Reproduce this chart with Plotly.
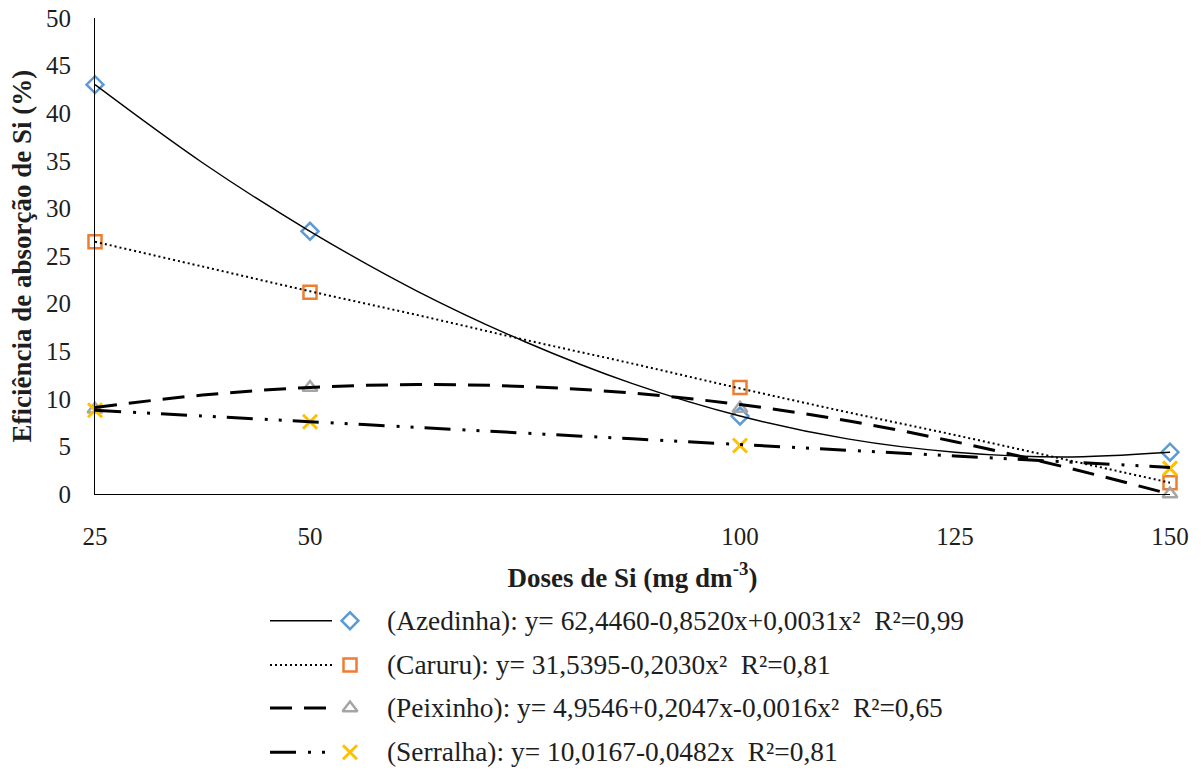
import plotly.graph_objects as go

# ---- data ----
doses = [25, 50, 100, 150]
azedinha = [43.0, 27.6, 8.2, 4.4]
caruru = [26.5, 21.2, 11.2, 1.2]
peixinho = [8.9, 11.2, 9.0, 0.0]
serralha = [8.8, 7.6, 5.1, 2.7]

# trend curves
curve_x = [25, 37.5, 50, 62.5, 75, 87.5, 100, 112.5, 125, 137.5, 150]
azedinha_fit = [43.0, 34.8, 27.6, 21.3, 16.0, 11.6, 8.2, 5.8, 4.4, 3.9, 4.4]
caruru_fit = [26.5, 23.9, 21.3, 18.8, 16.2, 13.7, 11.1, 8.6, 6.2, 3.7, 1.2]
peixinho_fit = [9.1, 10.4, 11.2, 11.5, 11.3, 10.6, 9.4, 7.7, 5.5, 2.9, 0.0]
serralha_fit = [8.8, 8.2, 7.6, 7.0, 6.4, 5.8, 5.2, 4.6, 4.0, 3.4, 2.8]

x_ticks = [25, 50, 100, 125, 150]
y_ticks = [0, 5, 10, 15, 20, 25, 30, 35, 40, 45, 50]

labels = [
    "(Azedinha): y= 62,4460-0,8520x+0,0031x²\u00a0\u00a0R²=0,99",
    "(Caruru): y= 31,5395-0,2030x²\u00a0\u00a0R²=0,81",
    "(Peixinho): y= 4,9546+0,2047x-0,0016x²\u00a0\u00a0R²=0,65",
    "(Serralha): y= 10,0167-0,0482x\u00a0\u00a0R²=0,81",
]

FONT = "Liberation Serif, Times New Roman, serif"
TXT = "#1e1e1e"

series = [
    dict(y=azedinha, fit=azedinha_fit, symbol="diamond-open", color="#5B9BD5", size=13, mlw=2.5,
         dash="solid", lw=1.4),
    dict(y=caruru, fit=caruru_fit, symbol="square-open", color="#ED7D31", size=13, mlw=2.5,
         dash="2px,3px", lw=2),
    dict(y=peixinho, fit=peixinho_fit, symbol="triangle-up-open", color="#A5A5A5", size=13, mlw=2.5,
         dash="22px,12px", lw=3),
    dict(y=serralha, fit=serralha_fit, symbol="x-thin-open", color="#FFC000", size=14, mlw=3,
         dash="26px,12px,3px,11px,3px,11px", lw=3),
]

fig = go.Figure()

for s in series:
    fig.add_trace(go.Scatter(
        x=doses, y=s["y"], mode="markers", showlegend=False, cliponaxis=False,
        marker=dict(symbol=s["symbol"], size=s["size"], color=s["color"],
                    line=dict(color=s["color"], width=s["mlw"])),
    ))
for s in series:
    fig.add_trace(go.Scatter(
        x=curve_x, y=s["fit"], mode="lines", showlegend=False, cliponaxis=False,
        line=dict(color="black", width=s["lw"], dash=s["dash"], shape="spline"),
    ))

# ---- manual legend (pixel-like coordinates on an auxiliary hidden axis) ----
rows = [632, 677, 721, 766]
for s, ry, lab in zip(series, rows, labels):
    fig.add_trace(go.Scatter(
        x=[270, 332], y=[ry, ry], mode="lines", xaxis="x2", yaxis="y2",
        showlegend=False, hoverinfo="skip", cliponaxis=False,
        line=dict(color="black", width=s["lw"], dash=s["dash"]),
    ))
    fig.add_trace(go.Scatter(
        x=[350], y=[ry], mode="markers", xaxis="x2", yaxis="y2",
        showlegend=False, hoverinfo="skip", cliponaxis=False,
        marker=dict(symbol=s["symbol"], size=s["size"], color=s["color"],
                    line=dict(color=s["color"], width=s["mlw"])),
    ))
    fig.add_annotation(
        x=385, y=ry, xref="x2", yref="y2", text=lab, showarrow=False,
        xanchor="left", yanchor="middle",
        font=dict(family=FONT, size=27.4, color=TXT),
    )

fig.update_layout(
    width=1204, height=780,
    margin=dict(l=95, r=34, t=18, b=0),
    plot_bgcolor="white", paper_bgcolor="white",
    font=dict(family=FONT, size=24, color=TXT),
    xaxis=dict(
        domain=[0, 1], range=[25, 150], tickvals=x_ticks, ticktext=[str(v) for v in x_ticks],
        showgrid=False, zeroline=False, showline=True, linecolor="black", linewidth=1.2,
        ticks="outside", ticklen=20, tickcolor="rgba(0,0,0,0)",
        tickfont=dict(family=FONT, size=25, color=TXT),
        title=dict(text="<b>Doses de Si (mg dm<sup>-3</sup>)</b>", standoff=18,
                   font=dict(family=FONT, size=27, color=TXT)),
    ),
    yaxis=dict(
        domain=[(780 - 503) / 762, 1], range=[0, 50], tickvals=y_ticks,
        showgrid=False, zeroline=False, showline=True, linecolor="black", linewidth=1.2,
        ticks="outside", ticklen=18, tickcolor="rgba(0,0,0,0)",
        tickfont=dict(family=FONT, size=25, color=TXT),
        title=dict(text="<b>Eficiência de absorção de Si (%)</b>", standoff=6,
                   font=dict(family=FONT, size=27, color=TXT)),
    ),
    xaxis2=dict(domain=[0, 1], range=[95, 1170], visible=False, anchor="y2", fixedrange=True),
    yaxis2=dict(domain=[0, (780 - 503) / 762], range=[780, 503], visible=False, anchor="x2",
                fixedrange=True),
)

fig.write_html("out.html")
